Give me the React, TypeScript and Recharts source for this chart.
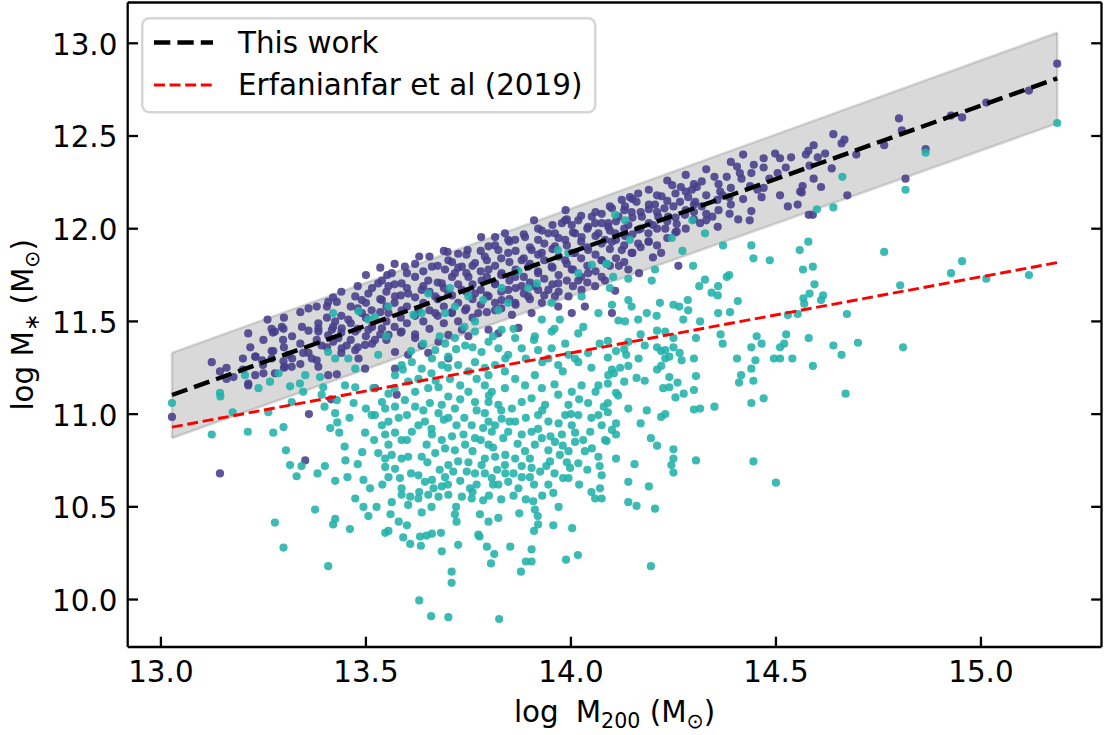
import React from 'react';
import { ComposedChart, Scatter, Line, Area, XAxis, YAxis, Legend, ReferenceLine } from 'recharts';

const FONT = '"DejaVu Sans", sans-serif';
const FS = 29.4;
const PURPLE = '#483d8b';
const TEAL = '#20b2aa';
const TICK_LEN = 10.3;
const SPINE = 2.3;

const xTicks = [13.0, 13.5, 14.0, 14.5, 15.0];
const yTicks = [10.0, 10.5, 11.0, 11.5, 12.0, 12.5, 13.0];

// fitted relation, its scatter band and the literature relation
const fitMass = [13.027, 15.186];
const fitStellar = [11.103, 12.811];
const scatterLow = [10.871, 12.568];
const scatterHigh = [11.33, 13.057];
const erfanianfar = [10.93, 11.817];
const legendLabels = ['This work', 'Erfanianfar et al (2019)'];

// [log M200, log M*]
const upperSample: [number, number][] = [
  [15.186, 12.89], [15.117, 12.745], [15.013, 12.68], [14.927, 12.61], [14.954, 12.6], [14.8, 12.595], [14.807, 12.53],
  [14.764, 12.45], [14.865, 12.43], [14.816, 12.27], [14.696, 12.4], [14.64, 12.51], [14.667, 12.48], [14.66, 12.46],
  [14.674, 12.18], [14.592, 12.45], [14.579, 12.42], [14.573, 12.4], [14.602, 12.385], [14.62, 12.405], [14.582, 12.34],
  [14.636, 12.325], [14.592, 12.27], [14.61, 12.225], [14.565, 12.23], [14.559, 12.2], [14.563, 12.195], [14.553, 12.13],
  [14.529, 12.12], [14.51, 12.18], [14.537, 12.385], [14.524, 12.33], [14.504, 12.3], [14.498, 12.405], [14.51, 12.38],
  [14.47, 12.38], [14.484, 12.27], [14.446, 12.345], [14.44, 12.3], [14.405, 12.335], [14.412, 12.3], [14.416, 12.27],
  [14.437, 12.23], [14.455, 12.21], [14.465, 12.17], [14.44, 12.095], [14.408, 12.05], [14.436, 12.045], [14.387, 12.08],
  [14.38, 12.28], [14.35, 12.28], [14.386, 12.17], [14.364, 12.2], [14.357, 12.155], [14.37, 12.18], [14.345, 12.065],
  [14.358, 12.01], [14.33, 12.045], [14.319, 12.255], [14.307, 12.225], [14.295, 12.21], [14.247, 12.235], [14.268, 12.225],
  [14.286, 12.17], [14.303, 12.145], [14.319, 12.12], [14.3, 12.09], [14.266, 12.145], [14.25, 12.12], [14.278, 12.075],
  [14.315, 12.03], [14.258, 12.025], [14.221, 12.175], [14.205, 12.13], [14.228, 12.11], [14.19, 12.105], [14.213, 12.065],
  [14.237, 12.065], [14.2, 12.02], [14.23, 12.0], [14.258, 11.985], [14.164, 12.19], [14.144, 12.17], [14.16, 12.145],
  [14.132, 12.12], [14.124, 12.155], [14.148, 12.09], [14.173, 12.065], [14.116, 12.065], [14.14, 12.02], [14.164, 11.995],
  [14.189, 11.975], [14.1, 12.11], [14.091, 12.03], [14.108, 11.975], [14.132, 11.96], [14.1, 11.93], [14.124, 11.885],
  [14.164, 11.92], [14.189, 11.93], [14.148, 11.87], [14.2, 11.845], [14.22, 11.87], [14.117, 11.8], [14.14, 11.78],
  [14.166, 11.76], [14.262, 11.8], [14.108, 11.665], [14.1, 11.545], [14.58, 12.075], [14.59, 12.075],
  [13.987, 12.1], [13.91, 12.045], [13.781, 11.955], [13.63, 11.85], [13.699, 11.875], [13.748, 11.885], [13.725, 11.865],
  [13.552, 11.75], [13.595, 11.795], [13.661, 11.795], [13.36, 11.57], [13.26, 11.51], [13.474, 11.635], [13.408, 11.605],
  [13.429, 11.605], [13.815, 11.955], [13.847, 11.94], [13.888, 11.955], [13.929, 11.99], [13.945, 11.975], [13.978, 12.03],
  [14.002, 12.02], [14.051, 12.065], [14.075, 12.08], [14.042, 12.01], [14.067, 11.975], [14.083, 11.94], [14.026, 11.955],
  [13.986, 11.94], [13.961, 11.905], [13.929, 11.87], [13.904, 11.885], [13.88, 11.83], [13.847, 11.87], [13.823, 11.885],
  [13.79, 11.85], [13.766, 11.815], [13.799, 11.78], [13.831, 11.76], [13.864, 11.74], [13.896, 11.795], [13.92, 11.76],
  [13.953, 11.795], [13.986, 11.83], [14.01, 11.87], [14.042, 11.885], [14.075, 11.83], [14.042, 11.76], [14.018, 11.72],
  [14.002, 11.78], [13.969, 11.705], [13.945, 11.67], [13.912, 11.69], [13.88, 11.69], [13.847, 11.67], [13.815, 11.705],
  [13.782, 11.72], [13.75, 11.74], [13.717, 11.76], [13.693, 11.78], [13.685, 11.705], [13.652, 11.72], [13.62, 11.74],
  [13.587, 11.705], [13.555, 11.69], [13.53, 11.705], [13.506, 11.65], [13.539, 11.615], [13.571, 11.635], [13.603, 11.65],
  [13.636, 11.67], [13.669, 11.635], [13.701, 11.65], [13.734, 11.67], [13.766, 11.65], [13.799, 11.635], [13.831, 11.615],
  [13.864, 11.6], [13.896, 11.635], [13.929, 11.6], [13.961, 11.635], [13.994, 11.635], [14.026, 11.67], [14.059, 11.69],
  [14.083, 11.72], [14.034, 11.58], [14.002, 11.545], [13.969, 11.58], [13.904, 11.545], [13.856, 11.535], [13.815, 11.56],
  [13.774, 11.545], [13.742, 11.56], [13.709, 11.545], [13.669, 11.545], [13.628, 11.56], [13.587, 11.56], [13.555, 11.545],
  [13.514, 11.56], [13.49, 11.545], [13.457, 11.51], [13.425, 11.5], [13.384, 11.49], [13.344, 11.47], [13.295, 11.47],
  [13.49, 11.615], [13.539, 11.72], [13.563, 11.76], [13.701, 11.83], [13.734, 11.795], [13.799, 11.905], [13.839, 11.975],
  [13.864, 11.94], [13.92, 11.94], [13.961, 11.975], [13.986, 12.045], [14.01, 11.975], [14.059, 12.03], [14.018, 12.045],
  [14.091, 12.01],
  [13.027, 10.985], [13.144, 10.68], [13.124, 11.28], [13.144, 11.23], [13.177, 11.2], [13.213, 11.435], [13.218, 11.36],
  [13.23, 11.31], [13.23, 11.21], [13.213, 11.155], [13.352, 10.75], [13.361, 11.0], [13.415, 11.08], [13.247, 11.29],
  [13.274, 11.34], [13.299, 11.46], [13.278, 11.445], [13.299, 11.285], [13.319, 11.255], [13.311, 11.32], [13.347, 11.33],
  [13.368, 11.3], [13.384, 11.255], [13.408, 11.21], [13.429, 11.215], [13.392, 11.37], [13.384, 11.445], [13.408, 11.425],
  [13.433, 11.41], [13.453, 11.37], [13.474, 11.345], [13.482, 11.3], [13.498, 11.245], [13.571, 11.245], [13.799, 11.455],
  [13.872, 11.465], [13.652, 11.33], [13.701, 11.3], [13.75, 11.42], [13.522, 11.14], [13.575, 11.105], [13.231, 11.31],
  [13.213, 11.165], [13.278, 11.22], [13.249, 11.265], [13.302, 11.255], [13.27, 11.34], [13.298, 11.4], [13.273, 11.44],
  [13.384, 11.463], [13.417, 11.455], [13.441, 11.463], [13.474, 11.445], [13.506, 11.455], [13.539, 11.463], [13.555, 11.427],
  [13.587, 11.445], [13.62, 11.41], [13.636, 11.37], [13.677, 11.39], [13.701, 11.427], [13.734, 11.455], [13.498, 11.373],
  [13.522, 11.4], [13.571, 11.335], [13.603, 11.32], [13.441, 11.355], [13.823, 11.436],
  // dense core of the upper cloud
  [13.405, 11.36], [13.405, 11.52], [13.405, 11.58], [13.42, 11.39], [13.42, 11.47], [13.42, 11.63], [13.44, 11.33],
  [13.44, 11.44], [13.44, 11.53], [13.44, 11.66], [13.463, 11.4], [13.463, 11.49], [13.463, 11.58], [13.48, 11.36],
  [13.48, 11.46], [13.48, 11.57], [13.48, 11.69], [13.5, 11.42], [13.5, 11.52], [13.5, 11.6], [13.5, 11.75],
  [13.515, 11.38], [13.515, 11.47], [13.515, 11.68], [13.535, 11.43], [13.535, 11.55], [13.535, 11.62], [13.535, 11.79],
  [13.55, 11.4], [13.55, 11.5], [13.55, 11.58], [13.55, 11.66], [13.57, 11.47], [13.57, 11.6], [13.57, 11.7],
  [13.57, 11.81], [13.585, 11.44], [13.585, 11.52], [13.585, 11.64], [13.6, 11.49], [13.6, 11.58], [13.6, 11.68],
  [13.6, 11.76], [13.62, 11.43], [13.62, 11.53], [13.62, 11.63], [13.62, 11.81], [13.64, 11.5], [13.64, 11.6],
  [13.64, 11.69], [13.64, 11.77], [13.655, 11.46], [13.655, 11.56], [13.655, 11.66], [13.655, 11.85], [13.675, 11.53],
  [13.675, 11.62], [13.675, 11.71], [13.675, 11.8], [13.69, 11.49], [13.69, 11.58], [13.69, 11.68], [13.69, 11.88],
  [13.71, 11.55], [13.71, 11.64], [13.71, 11.74], [13.71, 11.82], [13.725, 11.5], [13.725, 11.6], [13.725, 11.7],
  [13.725, 11.79], [13.745, 11.57], [13.745, 11.66], [13.745, 11.76], [13.745, 11.86], [13.76, 11.52], [13.76, 11.62],
  [13.76, 11.7], [13.76, 11.8], [13.78, 11.59], [13.78, 11.67], [13.78, 11.77], [13.78, 11.88], [13.795, 11.55],
  [13.795, 11.64], [13.795, 11.74], [13.795, 11.83], [13.815, 11.6], [13.815, 11.7], [13.815, 11.8], [13.815, 11.91],
  [13.83, 11.57], [13.83, 11.66], [13.83, 11.75], [13.83, 11.84], [13.85, 11.62], [13.85, 11.72], [13.85, 11.82],
  [13.85, 11.93], [13.865, 11.59], [13.865, 11.68], [13.865, 11.78], [13.865, 11.88], [13.885, 11.65], [13.885, 11.74],
  [13.885, 11.84], [13.885, 11.97], [13.9, 11.62], [13.9, 11.71], [13.9, 11.81], [13.9, 11.9], [13.92, 11.67],
  [13.92, 11.77], [13.92, 11.86], [13.92, 12.0], [13.935, 11.64], [13.935, 11.73], [13.935, 11.83], [13.935, 11.92],
  [13.955, 11.7], [13.955, 11.79], [13.955, 11.89], [13.955, 12.02], [13.97, 11.66], [13.97, 11.75], [13.97, 11.85],
  [13.97, 11.95], [13.99, 11.72], [13.99, 11.81], [13.99, 11.91], [13.99, 12.05], [14.005, 11.69], [14.005, 11.78],
  [14.005, 11.87], [14.005, 11.98], [14.025, 11.74], [14.025, 11.84], [14.025, 11.93], [14.025, 12.07], [14.04, 11.71],
  [14.04, 11.8], [14.04, 11.9], [14.04, 12.0], [14.06, 11.77], [14.06, 11.86], [14.06, 11.96], [14.06, 12.09],
  [14.075, 11.74], [14.075, 11.83], [14.075, 11.92], [14.075, 12.03], [14.095, 11.8], [14.095, 11.89], [14.095, 11.99],
  [14.095, 12.12], [14.11, 11.84], [14.11, 11.94], [14.11, 12.04], [14.13, 11.82], [14.13, 11.91], [14.13, 12.0],
  [14.13, 12.1], [14.15, 11.87], [14.15, 11.97], [14.15, 12.06], [14.15, 12.16], [14.17, 11.9], [14.17, 12.0],
  [14.17, 12.09], [14.19, 11.93], [14.19, 12.03], [14.19, 12.13], [14.19, 12.21], [14.21, 11.91], [14.21, 12.0],
  [14.21, 12.09], [14.21, 12.18], [14.235, 11.95], [14.235, 12.04], [14.235, 12.15], [14.235, 12.26], [14.255, 11.98],
  [14.255, 12.06], [14.255, 12.19], [14.28, 12.0], [14.28, 12.1], [14.28, 12.2], [14.28, 12.29], [14.3, 12.05],
  [14.3, 12.13], [14.3, 12.24], [14.33, 12.08], [14.33, 12.18], [14.33, 12.32], [14.36, 12.1], [14.36, 12.24],
  [14.39, 12.13], [14.39, 12.22], [14.39, 12.36], [14.42, 12.16], [14.42, 12.4], [14.47, 12.22], [14.47, 12.33],
  [13.3, 11.25], [13.3, 11.36], [13.3, 11.52], [13.32, 11.3], [13.32, 11.42], [13.34, 11.27], [13.34, 11.38],
  [13.34, 11.55], [13.36, 11.33], [13.36, 11.45], [13.38, 11.29], [13.38, 11.4], [13.38, 11.58], [13.25, 11.22],
  [13.25, 11.4], [13.27, 11.3], [13.27, 11.46], [13.2, 11.24], [13.2, 11.3], [13.16, 11.19], [13.16, 11.25],
];

const lowerSample: [number, number][] = [
  // right-hand tail
  [14.453, 11.42], [14.525, 11.43], [14.58, 11.41], [14.64, 11.37], [14.7, 11.385], [14.81, 11.36], [14.66, 11.32],
  [14.59, 11.26], [14.67, 11.11], [14.54, 11.3], [14.51, 11.3], [14.495, 11.3], [14.51, 11.36], [14.52, 11.38],
  [14.465, 11.38], [14.44, 11.36], [14.45, 11.29], [14.44, 11.245], [14.445, 11.18], [14.415, 11.21], [14.41, 11.17],
  [14.405, 11.3], [14.47, 11.085], [14.44, 11.06], [14.37, 11.38], [14.365, 11.43], [14.35, 11.04], [14.315, 11.03],
  [14.3, 11.025], [14.3, 11.13], [14.305, 11.205], [14.3, 11.3], [14.305, 11.41], [14.275, 11.11], [14.255, 11.09],
  [14.26, 11.17], [14.24, 11.2], [14.24, 11.145], [14.225, 11.14], [14.27, 11.29], [14.265, 11.33], [14.25, 11.36],
  [14.25, 11.41], [14.23, 11.3], [14.21, 11.24], [14.22, 11.26], [14.21, 11.36], [14.21, 11.45], [14.23, 11.445],
  [14.23, 11.345], [14.22, 10.985], [14.23, 11.0], [14.25, 10.81], [14.25, 10.76], [14.245, 10.725], [14.25, 10.685],
  [14.305, 10.75], [14.445, 10.745], [14.5, 10.63], [14.21, 10.83], [14.195, 10.87], [14.205, 10.49], [14.19, 10.61],
  [14.16, 10.505], [14.14, 10.525], [14.14, 10.635], [14.155, 10.73], [14.11, 10.76], [14.195, 10.18], [14.17, 10.95],
  [14.185, 11.02], [14.14, 11.03], [14.11, 10.89], [14.1, 10.915], [14.11, 10.95], [14.087, 10.855], [14.09, 11.01],
  [14.115, 11.1], [14.11, 11.115], [14.13, 11.175], [14.09, 11.165], [14.16, 11.195], [14.18, 11.18], [14.165, 11.3],
  [14.14, 11.26], [14.12, 11.25], [14.1, 11.24], [14.105, 11.22], [14.09, 11.305], [14.11, 11.34], [14.13, 11.35],
  [14.14, 11.39], [14.17, 11.43], [14.18, 11.37], [14.09, 11.395], [14.135, 11.32], [14.09, 11.06], [14.22, 11.34],
  [14.24, 11.31],
  // inside and below the band at high mass
  [15.186, 12.57], [14.865, 12.41], [14.816, 12.21], [14.662, 12.28], [14.64, 12.115], [14.6, 12.105], [14.764, 11.875],
  [14.954, 11.825], [14.927, 11.76], [15.013, 11.73], [15.117, 11.75], [14.803, 11.695], [14.673, 11.54], [14.579, 11.93],
  [14.558, 11.885], [14.566, 11.78], [14.59, 11.795], [14.594, 11.7], [14.582, 11.65], [14.567, 11.625], [14.569, 11.595],
  [14.615, 11.64], [14.61, 11.615], [14.553, 11.54], [14.529, 11.535], [14.44, 11.91], [14.445, 11.84], [14.485, 11.83],
  [14.371, 11.91], [14.407, 11.61], [14.386, 11.75], [14.38, 11.74], [14.359, 11.69], [14.343, 11.655], [14.358, 11.64],
  [14.327, 11.725], [14.313, 11.69], [14.298, 11.8], [14.272, 11.88], [14.296, 12.045], [14.327, 11.975], [14.285, 11.615],
  [14.264, 11.58], [14.286, 11.56], [14.25, 11.59], [14.359, 11.545], [14.388, 11.55], [14.315, 11.5], [14.274, 11.51],
  [14.197, 11.72], [14.205, 11.78], [14.217, 11.6], [14.185, 11.545], [14.209, 11.53], [14.164, 11.51], [14.148, 11.58],
  [14.14, 11.615], [14.14, 11.73], [14.095, 11.68], [14.132, 11.5], [14.116, 11.505], [14.1, 11.59], [14.144, 11.94],
  [14.246, 11.95], [14.108, 12.075], [14.132, 12.045], [14.087, 11.81], [14.103, 11.74],
  // mixed in with the upper cloud
  [13.968, 11.885], [13.994, 11.87], [13.872, 11.77], [13.896, 11.68], [13.917, 11.705], [13.831, 11.68], [13.705, 11.68],
  [13.652, 11.65], [13.75, 11.635], [13.786, 11.615], [14.051, 11.805], [14.087, 11.81], [14.018, 11.76], [14.026, 11.635],
  [14.067, 11.545], [13.953, 11.6], [13.929, 11.51], [13.973, 11.51], [13.847, 11.6], [13.823, 11.56], [13.766, 11.5],
  [13.717, 11.58], [13.693, 11.545], [13.636, 11.545], [13.616, 11.535], [13.555, 11.58], [13.522, 11.525], [13.482, 11.555],
  [13.42, 11.545], [13.506, 11.51],
  // low-mass side and the main lower cloud
  [13.027, 11.06], [13.124, 10.89], [13.145, 11.095], [13.144, 11.115], [13.175, 11.01], [13.212, 10.905], [13.205, 11.21],
  [13.238, 11.14], [13.262, 11.01], [13.274, 10.9], [13.299, 10.93], [13.305, 10.805], [13.315, 10.725], [13.331, 10.665],
  [13.278, 10.415], [13.299, 10.28], [13.343, 10.72], [13.382, 10.68], [13.4, 10.72], [13.376, 10.485], [13.408, 10.18],
  [13.425, 10.64], [13.455, 10.66], [13.474, 10.545], [13.494, 10.5], [13.425, 10.435], [13.42, 10.405], [13.461, 10.38],
  [13.506, 10.45], [13.526, 10.5], [13.48, 10.73], [13.491, 10.795], [13.448, 10.825], [13.498, 10.9], [13.494, 10.645],
  [13.43, 10.955], [13.435, 10.9], [13.413, 10.925], [13.425, 11.005], [13.399, 11.04], [13.429, 11.075], [13.319, 11.065],
  [13.347, 11.12], [13.392, 11.105], [13.315, 11.15], [13.339, 11.165], [13.396, 11.145], [13.287, 11.22], [13.266, 11.175],
  [13.352, 11.21], [13.388, 11.2], [13.408, 11.335], [13.425, 11.3], [13.457, 11.3], [13.474, 11.245], [13.449, 11.155],
  [13.474, 11.145], [13.518, 11.14], [13.522, 10.995], [13.547, 11.03], [13.539, 10.94], [13.555, 10.96], [13.547, 10.89],
  [13.571, 10.9], [13.555, 10.835], [13.53, 10.79], [13.547, 10.76], [13.563, 10.78], [13.587, 10.86], [13.587, 10.76],
  [13.547, 10.715], [13.571, 10.705], [13.555, 10.66], [13.583, 10.655], [13.603, 10.77], [13.587, 10.6], [13.608, 10.555],
  [13.587, 10.565], [13.563, 10.525], [13.603, 10.51], [13.636, 10.47], [13.628, 10.545], [13.652, 10.565], [13.677, 10.555],
  [13.701, 10.565], [13.665, 10.6], [13.685, 10.61], [13.644, 10.635], [13.628, 10.67], [13.661, 10.645], [13.693, 10.66],
  [13.713, 10.69], [13.701, 10.725], [13.725, 10.745], [13.746, 10.69], [13.766, 10.68], [13.734, 10.555], [13.758, 10.545],
  [13.754, 10.6], [13.786, 10.535], [13.778, 10.46], [13.717, 10.46], [13.721, 10.42], [13.774, 10.35], [13.799, 10.42],
  [13.823, 10.44], [13.795, 10.285], [13.813, 10.245], [13.805, 10.195], [13.852, 10.285], [13.878, 10.15], [13.89, 10.205],
  [13.904, 10.205], [13.904, 10.27], [13.908, 10.53], [13.912, 10.485], [13.919, 10.45], [13.92, 10.405], [13.91, 10.37],
  [13.874, 10.465], [13.957, 10.4], [14.003, 10.385], [13.988, 10.215], [14.017, 10.24], [13.709, 10.15], [13.709, 10.09],
  [13.63, 9.995], [13.659, 9.91], [13.701, 9.905], [13.825, 9.895], [13.685, 10.26], [13.725, 10.295], [13.683, 10.36],
  [13.661, 10.355], [13.648, 10.345], [13.632, 10.34], [13.634, 10.29], [13.608, 10.3], [13.591, 10.335], [13.6, 10.4],
  [13.555, 10.37], [13.547, 10.36], [13.777, 10.34],
  [13.514, 10.995], [13.539, 11.065], [13.555, 11.11], [13.571, 11.04], [13.595, 11.075], [13.6, 10.995], [13.62, 11.04],
  [13.628, 10.94], [13.612, 10.905], [13.644, 10.96], [13.656, 11.06], [13.677, 11.005], [13.685, 11.05], [13.701, 11.095],
  [13.717, 11.03], [13.701, 10.98], [13.721, 10.94], [13.661, 10.89], [13.685, 10.86], [13.648, 10.835], [13.669, 10.79],
  [13.636, 10.77], [13.693, 10.815], [13.717, 10.805], [13.742, 10.835], [13.738, 10.89], [13.758, 10.94], [13.766, 10.87],
  [13.786, 10.925], [13.79, 11.005], [13.799, 10.96], [13.807, 10.905], [13.815, 10.94], [13.831, 10.975], [13.847, 10.905],
  [13.835, 10.87], [13.864, 10.96], [13.88, 10.89], [13.856, 11.03], [13.88, 11.065], [13.823, 11.05], [13.799, 11.065],
  [13.766, 11.065], [13.75, 11.12], [13.73, 11.155], [13.705, 11.19], [13.677, 11.145], [13.652, 11.14], [13.628, 11.19],
  [13.603, 11.175], [13.571, 11.21], [13.587, 11.265], [13.612, 11.28], [13.636, 11.245], [13.661, 11.3], [13.685, 11.265],
  [13.701, 11.31], [13.725, 11.265], [13.75, 11.23], [13.77, 11.19], [13.79, 11.155], [13.807, 11.12], [13.839, 11.14],
  [13.864, 11.19], [13.888, 11.155], [13.912, 11.21], [13.929, 11.14], [13.904, 11.085], [13.937, 11.05], [13.92, 10.995],
  [13.945, 10.96], [13.904, 10.905], [13.929, 10.87], [13.961, 10.85], [13.978, 10.89], [13.945, 10.805], [13.973, 10.78],
  [13.994, 10.8], [14.01, 10.85], [14.002, 10.94], [13.986, 10.995], [14.018, 10.995], [13.994, 11.05], [13.969, 11.105],
  [14.002, 11.12], [14.026, 11.155], [14.042, 11.06], [14.067, 10.995], [14.047, 10.905], [14.075, 10.94], [14.083, 10.86],
  [14.051, 10.815], [14.067, 10.77], [14.018, 10.735], [13.998, 10.71], [13.981, 10.655], [13.949, 10.745], [13.925, 10.69],
  [13.904, 10.71], [13.88, 10.66], [13.872, 10.6], [13.847, 10.635], [13.823, 10.62], [13.807, 10.655], [13.839, 10.725],
  [13.864, 10.76], [13.815, 10.77], [13.79, 10.76], [13.782, 10.725], [13.799, 10.835], [13.888, 10.8], [13.912, 10.835],
  [13.945, 10.62], [13.957, 10.575], [13.994, 10.655], [14.059, 10.545], [14.075, 10.545], [14.071, 10.6], [14.075, 10.67],
  [14.034, 10.8], [14.018, 11.28], [14.042, 11.33], [13.994, 11.32], [13.969, 11.265], [13.945, 11.3], [13.92, 11.345],
  [13.953, 11.355], [13.986, 11.38], [14.018, 11.435], [13.953, 11.445], [13.912, 11.42], [13.864, 11.41], [13.88, 11.355],
  [13.847, 11.32], [13.823, 11.355], [13.799, 11.39], [13.782, 11.335], [13.766, 11.28], [13.815, 11.265], [13.839, 11.23],
  [13.799, 11.21], [13.742, 11.37], [13.717, 11.41], [13.693, 11.38], [13.669, 11.345], [13.766, 11.445], [13.831, 11.455],
  [14.091, 11.21], [14.067, 11.155],
  // filling the centre of the lower cloud
  [13.62, 11.12], [13.64, 11.02], [13.66, 10.92], [13.67, 11.18], [13.69, 10.97], [13.71, 10.88], [13.73, 11.08],
  [13.74, 10.98], [13.76, 10.8], [13.77, 11.02], [13.78, 10.86], [13.8, 11.1], [13.81, 10.82], [13.82, 10.7],
  [13.83, 11.02], [13.84, 10.78], [13.85, 10.96], [13.86, 10.68], [13.87, 10.84], [13.89, 10.98], [13.9, 10.76],
  [13.91, 10.62], [13.92, 10.92], [13.93, 11.02], [13.94, 10.72], [13.95, 10.88], [13.96, 11.16], [13.97, 10.95],
  [13.98, 10.83], [14.0, 11.0], [14.01, 10.9], [14.02, 11.08], [14.03, 10.86], [14.05, 10.98], [14.06, 11.12],
  [14.07, 10.72], [14.08, 11.04], [13.6, 10.86], [13.61, 10.68], [13.63, 10.58], [13.65, 10.74], [13.66, 10.5],
  [13.68, 10.7], [13.7, 10.62], [13.72, 10.5], [13.73, 10.64], [13.75, 10.74], [13.76, 10.58], [13.77, 10.62],
  [13.79, 10.68], [13.8, 10.56], [13.81, 10.62], [13.83, 10.54], [13.84, 10.68], [13.86, 10.56], [13.88, 10.72],
  [13.89, 10.54], [13.9, 10.66], [13.93, 10.56], [13.96, 10.68], [13.97, 10.5], [13.99, 10.74], [14.02, 10.62],
  [14.04, 10.7], [14.05, 10.58], [13.58, 10.98], [13.57, 11.14], [13.59, 11.24], [13.61, 11.34], [13.64, 11.38],
  [13.66, 11.22], [13.68, 11.42], [13.7, 11.25], [13.72, 11.35], [13.74, 11.47], [13.76, 11.36], [13.79, 11.25],
  [13.81, 11.42], [13.84, 11.3], [13.86, 11.46], [13.89, 11.3], [13.91, 11.4], [13.93, 11.28], [13.96, 11.46],
  [13.98, 11.23], [14.01, 11.3], [14.03, 11.47], [14.05, 11.25], [14.07, 11.38], [13.53, 11.32], [13.55, 11.42],
  [13.5, 11.03], [13.52, 10.86], [13.54, 10.62], [13.56, 10.46], [13.58, 10.42], [13.46, 10.98], [13.47, 11.06],
  [13.45, 10.75], [13.51, 10.6],
];

const relationData = fitMass.map((x, i) => ({
  x,
  fit: fitStellar[i],
  band: [scatterLow[i], scatterHigh[i]],
  ref: erfanianfar[i],
}));
const upperData = upperSample.map(([x, y]) => ({ x, y }));
const lowerData = lowerSample.map(([x, y]) => ({ x, y }));

const fmt = (v: number) => v.toFixed(1);

// matplotlib-style inward ticks: draw the tick line ourselves plus the label
const BottomTick = ({ x, y, payload }: any) => (
  <g>
    <line x1={x} x2={x} y1={y} y2={y - TICK_LEN} stroke="#000" strokeWidth={SPINE} />
    <text x={x} y={y + 34.7} textAnchor="middle" fontFamily={FONT} fontSize={FS} fill="#000">
      {fmt(payload.value)}
    </text>
  </g>
);
const LeftTick = ({ x, y, payload }: any) => (
  <g>
    <line x1={x} x2={x + TICK_LEN} y1={y} y2={y} stroke="#000" strokeWidth={SPINE} />
    <text x={x - 10.3} y={y + 11.5} textAnchor="end" fontFamily={FONT} fontSize={FS} fill="#000">
      {fmt(payload.value)}
    </text>
  </g>
);
const TopTick = ({ x, y }: any) => (
  <line x1={x} x2={x} y1={y} y2={y + TICK_LEN} stroke="#000" strokeWidth={SPINE} />
);
const RightTick = ({ x, y }: any) => (
  <line x1={x} x2={x - TICK_LEN} y1={y} y2={y} stroke="#000" strokeWidth={SPINE} />
);

const XTitle = ({ viewBox }: any) => {
  const vb = viewBox ?? { x: 127.7, y: 647, width: 973.8 };
  const cx = vb.x + vb.width / 2;
  return (
    <text x={cx} y={vb.y + 75} textAnchor="middle" fontFamily={FONT} fontSize={FS} fill="#000">
      log
      <tspan dx={17}>M</tspan>
      <tspan fontSize={FS * 0.7} dy={6}>200</tspan>
      <tspan dy={-6}> (M</tspan>
      <tspan fontSize={FS * 0.7} dy={6}>⊙</tspan>
      <tspan dy={-6}>)</tspan>
    </text>
  );
};

const YTitle = ({ viewBox }: any) => {
  const vb = viewBox ?? { y: 2.5, height: 644.5 };
  const cy = vb.y + vb.height / 2;
  const bx = 33;
  return (
    <text
      x={bx}
      y={cy}
      transform={`rotate(-90, ${bx}, ${cy})`}
      textAnchor="middle"
      fontFamily={FONT}
      fontSize={FS}
      fill="#000"
    >
      log M
      <tspan fontSize={FS * 0.7} dy={6}>∗</tspan>
      <tspan dy={-6}> (M</tspan>
      <tspan fontSize={FS * 0.7} dy={6}>⊙</tspan>
      <tspan dy={-6}>)</tspan>
    </text>
  );
};

const LegendBox = () => (
  <svg width={456} height={97} style={{ display: 'block' }}>
    <rect x={1.25} y={1.25} width={453} height={94} rx={7} fill="#fff" fillOpacity={0.8} stroke="#d6d6d6" strokeWidth={2.5} />
    <line x1={13} x2={72} y1={25.5} y2={25.5} stroke="#000" strokeWidth={4.4} strokeDasharray="16.3 7.1" />
    <text x={97} y={35.7} fontFamily={FONT} fontSize={FS} fill="#000">{legendLabels[0]}</text>
    <line x1={13} x2={72} y1={68} y2={68} stroke="#ff0000" strokeWidth={2.9} strokeDasharray="10.9 4.7" />
    <text x={97} y={78.3} fontFamily={FONT} fontSize={FS} fill="#000">{legendLabels[1]}</text>
  </svg>
);

const dot = (color: string) => (p: any) =>
  <circle cx={p.cx} cy={p.cy} r={4.1} fill={color} fillOpacity={0.88} />;

const X_DOMAIN: [number, number] = [12.919, 15.294];
const Y_DOMAIN: [number, number] = [9.744, 13.22];

export default function App() {
  return (
    <div style={{ position: 'absolute', left: 0, top: 0, background: '#fff' }}>
      <ComposedChart
        width={1115}
        height={735}
        data={relationData}
        margin={{ top: 1.5, right: 12.5, bottom: 0, left: 0 }}
      >
        <XAxis
          type="number"
          dataKey="x"
          domain={X_DOMAIN}
          allowDataOverflow
          ticks={xTicks}
          interval={0}
          height={88}
          tickLine={false}
          tickSize={0}
          tickMargin={0}
          tick={BottomTick}
          axisLine={{ stroke: '#000', strokeWidth: SPINE }}
          label={{ content: (p: any) => <XTitle viewBox={p.viewBox} /> }}
        />
        {/* top and right axes only close the frame and carry inward ticks */}
        <XAxis
          xAxisId="top"
          orientation="top"
          type="number"
          domain={X_DOMAIN}
          allowDataOverflow
          ticks={xTicks}
          interval={0}
          height={1}
          tickLine={false}
          tickSize={0}
          tickMargin={0}
          tick={TopTick}
          axisLine={{ stroke: '#000', strokeWidth: SPINE }}
        />
        <YAxis
          type="number"
          domain={Y_DOMAIN}
          allowDataOverflow
          ticks={yTicks}
          interval={0}
          width={127.7}
          tickLine={false}
          tickSize={0}
          tickMargin={0}
          tick={LeftTick}
          axisLine={{ stroke: '#000', strokeWidth: SPINE }}
          label={{ content: (p: any) => <YTitle viewBox={p.viewBox} /> }}
        />
        <YAxis
          yAxisId="right"
          orientation="right"
          type="number"
          domain={Y_DOMAIN}
          allowDataOverflow
          ticks={yTicks}
          interval={0}
          width={1}
          tickLine={false}
          tickSize={0}
          tickMargin={0}
          tick={RightTick}
          axisLine={{ stroke: '#000', strokeWidth: SPINE }}
        />
        <Area
          dataKey="band"
          type="linear"
          fill="#808080"
          fillOpacity={0.3}
          stroke="#808080"
          strokeOpacity={0.3}
          strokeWidth={2.5}
          dot={false}
          activeDot={false}
          legendType="none"
          isAnimationActive={false}
        />
        <ReferenceLine
          segment={[{ x: fitMass[0], y: scatterLow[0] }, { x: fitMass[0], y: scatterHigh[0] }]}
          stroke="#808080"
          strokeOpacity={0.3}
          strokeWidth={2.5}
        />
        <ReferenceLine
          segment={[{ x: fitMass[1], y: scatterLow[1] }, { x: fitMass[1], y: scatterHigh[1] }]}
          stroke="#808080"
          strokeOpacity={0.3}
          strokeWidth={2.5}
        />
        <Scatter data={upperData} dataKey="y" shape={dot(PURPLE)} legendType="none" isAnimationActive={false} />
        <Scatter data={lowerData} dataKey="y" shape={dot(TEAL)} legendType="none" isAnimationActive={false} />
        <Line
          dataKey="fit"
          name={legendLabels[0]}
          type="linear"
          stroke="#000"
          strokeWidth={4.4}
          strokeDasharray="16.3 7.1"
          dot={false}
          activeDot={false}
          zIndex={700}
          isAnimationActive={false}
        />
        <Line
          dataKey="ref"
          name={legendLabels[1]}
          type="linear"
          stroke="#ff0000"
          strokeWidth={2.9}
          strokeDasharray="10.9 4.7"
          dot={false}
          activeDot={false}
          zIndex={700}
          isAnimationActive={false}
        />
        <Legend
          layout="vertical"
          align="center"
          verticalAlign="middle"
          wrapperStyle={{ left: 141, top: 17, width: 456, height: 97 }}
          content={() => <LegendBox />}
        />
      </ComposedChart>
    </div>
  );
}
